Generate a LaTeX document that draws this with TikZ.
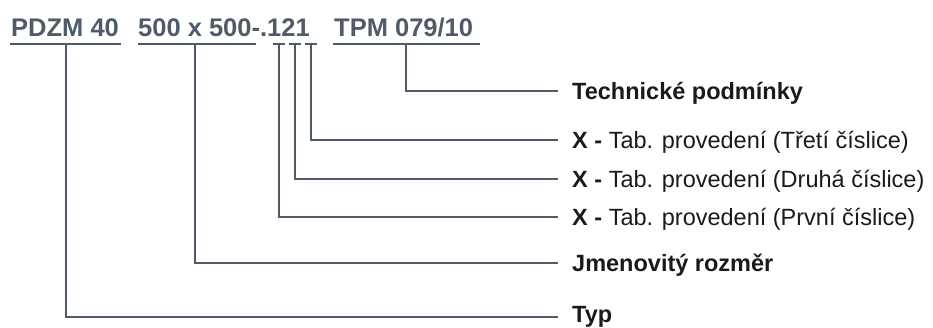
\documentclass[tikz,border=0pt]{standalone}
\usepackage{fontspec}
\setmainfont{Liberation Sans}
\definecolor{slate}{HTML}{505B69}
\definecolor{ink}{HTML}{1A1A1A}
\begin{document}
\begin{tikzpicture}[x=1pt,y=-1pt,
  code/.style={anchor=base west,inner sep=0pt,text=slate,font=\fontsize{25.5}{30}\selectfont\bfseries},
  lab/.style={anchor=base west,inner sep=0pt,text=ink,font=\fontsize{23.5}{28}\selectfont},
  conn/.style={draw=slate,line width=2.2pt},
  uline/.style={draw=slate,line width=2pt}]
\useasboundingbox (0,0) rectangle (933,327);
% top code
\node[code] (c1) at (11,36) {PDZM 40};
\node[code] (c2) at (138,36) {500 x 500-.121};
\node[code] (c3) at (334,36) {TPM 079/10};
% underline tick points
\coordinate (t1) at (66,44);
\coordinate (t2) at (195,44);
\coordinate (t3) at (279,44);
\coordinate (t4) at (295,44);
\coordinate (t5) at (311,44);
\coordinate (t6) at (406,44);
\draw[uline] (10,44) -- (121,44);
\draw[uline] (138,44) -- (256,44);
\draw[uline] (273,44) -- (285,44);
\draw[uline] (289,44) -- (301,44);
\draw[uline] (305,44) -- (317,44);
\draw[uline] (333,44) -- (480,44);
% line ends and labels
\coordinate (e6) at (558,91);
\coordinate (e5) at (558,140);
\coordinate (e4) at (558,179);
\coordinate (e3) at (558,217);
\coordinate (e2) at (558,263);
\coordinate (e1) at (558,317);
\node[lab] (l6) at (572,99.5) {\bfseries Technické podmínky};
\node[lab] (l5) at (572,148.5) {{\bfseries X -} Tab. provedení (Třetí číslice)};
\node[lab] (l4) at (572,187.5) {{\bfseries X -} Tab. provedení (Druhá číslice)};
\node[lab] (l3) at (572,225.5) {{\bfseries X -} Tab. provedení (První číslice)};
\node[lab] (l2) at (572,271.5) {\bfseries Jmenovitý rozměr};
\node[lab] (l1) at (572,322) {\bfseries Typ};
% connectors
\draw[conn] (t6) |- (e6);
\draw[conn] (t5) |- (e5);
\draw[conn] (t4) |- (e4);
\draw[conn] (t3) |- (e3);
\draw[conn] (t2) |- (e2);
\draw[conn] (t1) |- (e1);
\end{tikzpicture}
\end{document}
